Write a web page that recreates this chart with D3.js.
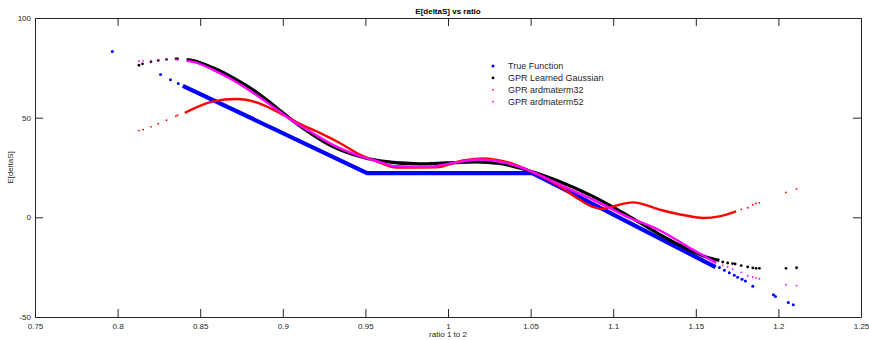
<!DOCTYPE html>
<html>
<head>
<meta charset="utf-8">
<script src="https://cdn.jsdelivr.net/npm/d3@7"></script>
<style>
  body { margin: 0; background: #fff; }
  text { font-family: "Liberation Sans", Arial, sans-serif; }
</style>
</head>
<body>
<div id="chart"></div>
<script>
// values: [ratio, E[deltaS]]
const trueFunctionLine = [[0.8395, 66], [0.951, 22.2], [1.051, 22.2], [1.0675, 15.3], [1.162, -25]];
const trueFunctionDots = [[0.7968, 83.2], [0.826, 71.6], [0.832, 69], [0.8367, 67.1],
  [1.1643, -25.2], [1.1673, -26.5], [1.1703, -27.8], [1.1733, -29], [1.1753, -30], [1.178, -31], [1.18, -32],
  [1.1845, -34.6], [1.197, -38.8], [1.1982, -39.7], [1.206, -42.7], [1.209, -43.8]];

const gaussianLine = [[0.8418, 79.2], [0.8458, 78.7], [0.8578, 75], [0.870, 70], [0.882, 64], [0.894, 56.5], [0.906, 48.5],
  [0.918, 41.5], [0.930, 35.6], [0.9425, 31.5], [0.9587, 28.3], [0.9829, 26.8], [0.999, 27.3], [1.017, 27.8], [1.031, 27],
  [1.047, 23.9], [1.0675, 18], [1.0877, 10.5], [1.1079, 1.4], [1.128, -8.5], [1.1482, -17.1], [1.1562, -19.9], [1.1643, -21.6]];
const gaussianDots = [[0.8129, 76.3], [0.8151, 77], [0.8202, 78], [0.8246, 78.7], [0.8296, 79.2], [0.8353, 79.5], [0.8363, 79.5],
  [1.1663, -22.4], [1.1693, -22.9], [1.1723, -23.2], [1.1738, -23.4], [1.1775, -24.2], [1.1814, -24.9], [1.1845, -25.4],
  [1.1865, -25.6], [1.1885, -25.6], [1.2046, -25.6], [1.211, -25.3]];

const matern32Line = [[0.8407, 52.4], [0.8578, 58.2], [0.872, 59.4], [0.884, 57.7], [0.898, 52.4], [0.910, 47], [0.9224, 42.4],
  [0.9345, 37.3], [0.9466, 31.5], [0.9587, 27.5], [0.9687, 25], [0.993, 25.1], [1.009, 28.5], [1.021, 29.6], [1.0375, 27.3],
  [1.049, 23.6], [1.0675, 15.6], [1.0796, 8.9], [1.0877, 5.2], [1.0937, 4.2], [1.0998, 5.5], [1.1119, 7.5], [1.128, 3.9],
  [1.1441, 0.9], [1.1542, -0.3], [1.1643, 0.5], [1.1744, 3]];
const matern32Dots = [[0.8129, 43.5], [0.8155, 44], [0.8202, 45.4], [0.8246, 47], [0.8296, 48.7], [0.8353, 50.7], [0.8363, 51.2],
  [1.1775, 4], [1.1814, 4.8], [1.1845, 6.2], [1.1865, 7], [1.1885, 7.3], [1.2046, 12.5], [1.211, 14.2]];

const matern52Line = [[0.8418, 78.5], [0.8458, 78], [0.8578, 74], [0.870, 68.8], [0.882, 62.5], [0.894, 55.5], [0.906, 48.3],
  [0.918, 42.3], [0.930, 36.5], [0.9425, 32], [0.9587, 27.8], [0.9687, 25.6], [0.9869, 25.3], [1.003, 27.3], [1.019, 29],
  [1.035, 27.3], [1.049, 23.6], [1.0675, 16.4], [1.0877, 8.9], [1.1079, 0.5], [1.128, -6.5], [1.1482, -16.2], [1.1623, -22.9]];
const matern52Dots = [[0.8129, 78.3], [0.8155, 78.5], [0.8202, 78.6], [0.8246, 79], [0.8296, 79.3], [0.8353, 79.2], [0.8363, 79],
  [1.1663, -24.1], [1.1693, -24.9], [1.1723, -25.9], [1.1775, -27.6], [1.1814, -29.3], [1.1845, -29.9], [1.1865, -30.4],
  [1.1885, -30.8], [1.2046, -33.8], [1.211, -34.3]];

const xTicks = [0.75, 0.8, 0.85, 0.9, 0.95, 1, 1.05, 1.1, 1.15, 1.2, 1.25];
const yTicks = [-50, 0, 50, 100];
const legendLabels = ["True Function", "GPR Learned Gaussian", "GPR ardmaterm32", "GPR ardmaterm52"];

const series = [
  { line: trueFunctionLine, dots: trueFunctionDots, color: "#0000ff", width: 4.2, r: 1.5, curve: d3.curveLinear },
  { line: gaussianLine, dots: gaussianDots, color: "#000000", width: 3.2, r: 1.4, curve: d3.curveMonotoneX },
  { line: matern32Line, dots: matern32Dots, color: "#ff0000", width: 2.4, r: 0.9, curve: d3.curveMonotoneX },
  { line: matern52Line, dots: matern52Dots, color: "#ff00ff", width: 2.4, r: 0.9, curve: d3.curveMonotoneX }
];

const W = 869, H = 340;
const margin = { top: 18, right: 8, bottom: 23, left: 35 };
const width = W - margin.left - margin.right;
const height = H - margin.top - margin.bottom;

const svg = d3.select("#chart").append("svg")
  .attr("width", W)
  .attr("height", H);

const g = svg.append("g")
  .attr("transform", "translate(" + margin.left + "," + margin.top + ")");

const x = d3.scaleLinear().domain([0.75, 1.25]).range([0, width]);
const y = d3.scaleLinear().domain([-50, 100]).range([height, 0]);

// data
series.forEach(s => {
  g.append("path")
    .datum(s.line)
    .attr("fill", "none")
    .attr("stroke", s.color)
    .attr("stroke-width", s.width)
    .attr("d", d3.line().curve(s.curve).x(d => x(d[0])).y(d => y(d[1])));
  g.append("g").selectAll("circle")
    .data(s.dots)
    .enter()
    .append("circle")
    .attr("cx", d => x(d[0]))
    .attr("cy", d => y(d[1]))
    .attr("r", s.r)
    .attr("fill", s.color);
});

// axes, matlab style box with inward ticks
const fmt = d => String(d);
const axisColor = "#262626";
function styleAxis(sel, showLabels) {
  sel.select(".domain").attr("stroke", axisColor).attr("stroke-width", 1);
  sel.selectAll(".tick line").attr("stroke", axisColor);
  sel.selectAll(".tick text")
    .attr("fill", axisColor)
    .style("font-size", "8px")
    .style("display", showLabels ? null : "none");
}
g.append("g").attr("transform", "translate(0," + height + ")")
  .call(d3.axisBottom(x).tickValues(xTicks).tickFormat(fmt).tickSizeInner(-8).tickSizeOuter(0).tickPadding(5))
  .call(a => styleAxis(a, true))
  .call(a => a.selectAll(".tick text").attr("dy", "0.9em"));
g.append("g")
  .call(d3.axisTop(x).tickValues(xTicks).tickSizeInner(-8).tickSizeOuter(0))
  .call(a => styleAxis(a, false));
g.append("g")
  .call(d3.axisLeft(y).tickValues(yTicks).tickFormat(fmt).tickSizeInner(-8).tickSizeOuter(0).tickPadding(4))
  .call(a => styleAxis(a, true));
g.append("g").attr("transform", "translate(" + width + ",0)")
  .call(d3.axisRight(y).tickValues(yTicks).tickSizeInner(-8).tickSizeOuter(0))
  .call(a => styleAxis(a, false));

// titles
svg.append("text")
  .attr("x", margin.left + width / 2)
  .attr("y", 14)
  .attr("text-anchor", "middle")
  .style("font-size", "8px")
  .style("font-weight", "bold")
  .attr("fill", "#000")
  .text("E[deltaS] vs ratio");

svg.append("text")
  .attr("x", margin.left + width / 2)
  .attr("y", 337)
  .attr("text-anchor", "middle")
  .style("font-size", "8px")
  .attr("fill", axisColor)
  .text("ratio 1 to 2");

svg.append("text")
  .attr("transform", "translate(13," + (margin.top + height / 2) + ") rotate(-90)")
  .attr("text-anchor", "middle")
  .style("font-size", "8px")
  .attr("fill", axisColor)
  .text("E[deltaS]");

// legend
const legend = svg.append("g").attr("transform", "translate(493,66)");
legendLabels.forEach((label, i) => {
  const row = legend.append("g").attr("transform", "translate(0," + (i * 11.9) + ")");
  row.append("circle")
    .attr("r", series[i].r)
    .attr("fill", series[i].color);
  row.append("text")
    .attr("x", 15)
    .attr("dy", "0.35em")
    .style("font-size", "9px")
    .attr("fill", axisColor)
    .text(label);
});
</script>
</body>
</html>
